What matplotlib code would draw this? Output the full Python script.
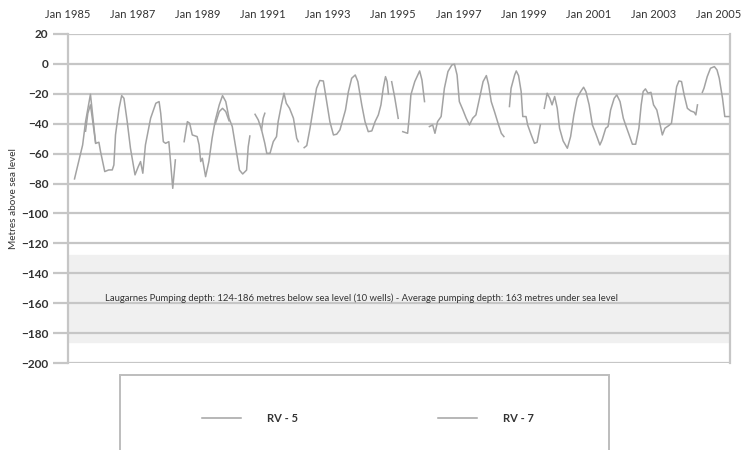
import numpy as np
import matplotlib
matplotlib.use("Agg")
import matplotlib.pyplot as plt
from matplotlib.patches import Rectangle

plt.rcParams['font.family'] = ['Lato', 'DejaVu Sans']

nan = np.nan

# RV - 5 readings (decimal year, metres above sea level); nan = gap in the record
rv5_year = [1985.20, 1985.45, 1985.54, 1985.69, 1985.85, 1985.95, 1986.00, 1986.13, 1986.25,
            1986.36, 1986.41, 1986.46, 1986.57, 1986.65, 1986.72, 1986.82, 1986.92, 1987.06,
            1987.16, 1987.23, 1987.30, 1987.38, 1987.54, 1987.70, 1987.80, 1987.85, 1987.93,
            1988.00, 1988.10, 1988.22, 1988.30, 1988.43,
            1988.57, 1988.67, 1988.74, 1988.82, 1988.97, 1989.03, 1989.08, 1989.13, 1989.23,
            1989.33, 1989.43, 1989.53, 1989.65, 1989.75, 1989.85, 1989.95, 1990.05, 1990.17,
            1990.27, 1990.37, 1990.49, 1990.54, 1990.59, 1990.67,
            1990.75, 1990.85, 1990.95, 1991.05, 1991.11, 1991.21, 1991.31, 1991.41, 1991.46,
            1991.56, 1991.64, 1991.71, 1991.81, 1991.93, 1992.03, 1992.08, 1992.17,
            1992.26, 1992.34, 1992.44, 1992.54, 1992.64, 1992.74, 1992.85, 1992.95, 1993.05,
            1993.16, 1993.26, 1993.36, 1993.46, 1993.53, 1993.62, 1993.72, 1993.83, 1993.91,
            1994.03, 1994.13, 1994.23, 1994.34, 1994.44, 1994.54, 1994.62, 1994.69, 1994.76,
            1994.81, 1994.85, 1995.04,
            1995.29, 1995.44, 1995.49, 1995.54, 1995.66, 1995.81, 1995.88, 1995.96, 1998.49,
            1998.57, 1998.62, 1998.73, 1998.78, 1998.85, 1998.93, 1998.98, 1999.08, 1999.13,
            1999.24, 1999.34, 1999.42, 1999.52, 2004.43,
            2004.50, 2004.55, 2004.65, 2004.75, 2004.87, 2004.95, 2005.02, 2005.12, 2005.19,
            2005.32]
rv5_level = [-76.9, -54.2, -38.6, -20.3, -53.1, -52.4, -58.6, -72.0, -70.9,
             -70.9, -67.6, -47.5, -29.7, -21.2, -23.0, -38.6, -56.4, -74.2,
             -68.7, -65.3, -73.1, -54.2, -36.3, -26.3, -25.2, -33.0, -52.0,
             -53.1, -52.0, -83.2, -64.2, nan,
             -52.0, -38.6, -39.7, -47.5, -48.6, -54.2, -65.3, -63.1, -75.4,
             -65.3, -49.7, -37.5, -27.4, -21.2, -25.2, -36.3, -41.9, -57.6,
             -71.0, -73.6, -71.0, -55.4, -48.2, nan,
             -33.7, -37.5, -44.1, -53.1, -59.8, -59.8, -52.0, -48.6, -38.6,
             -27.4, -19.6, -26.3, -29.7, -36.3, -49.7, -52.0, nan,
             -56.0, -54.6, -43.0, -29.7, -16.3, -11.1, -11.4, -25.2, -38.6,
             -47.5, -47.0, -44.1, -36.3, -30.8, -18.5, -9.6, -7.4, -11.8,
             -27.4, -38.6, -45.3, -44.8, -38.6, -34.1, -27.4, -16.3, -8.5,
             -11.8, -20.0, nan,
             -45.3, -46.4, -35.2, -20.7, -11.8, -4.7, -10.7, -25.2, nan,
             -28.5, -16.3, -7.4, -4.7, -7.8, -18.5, -35.2, -35.2, -40.8,
             -47.5, -53.1, -52.4, -40.8, nan,
             -19.0, -16.3, -8.5, -2.9, -1.8, -4.0, -9.6, -23.0, -35.2,
             -35.2]

# RV - 7 readings
rv7_year = [1985.54, 1985.61, 1985.69, 1985.77, 1985.85, 1987.02,
            1989.53, 1989.65, 1989.75, 1989.85, 1989.95, 1990.47,
            1990.95, 1991.00, 1991.05, 1992.09,
            1994.95, 1995.04, 1995.15, 1995.65,
            1996.11, 1996.21, 1996.28, 1996.36, 1996.47, 1996.57, 1996.68, 1996.80, 1996.88,
            1996.96, 1997.03, 1997.14, 1997.24, 1997.34, 1997.44, 1997.54, 1997.65, 1997.76,
            1997.86, 1997.93, 1998.01, 1998.11, 1998.22, 1998.32, 1998.40, 1999.20,
            1999.64, 1999.73, 1999.81, 1999.88, 1999.96, 2000.04, 2000.11, 2000.22, 2000.35,
            2000.45, 2000.55, 2000.65, 2000.76, 2000.85, 2000.92, 2001.02, 2001.12, 2001.22,
            2001.35, 2001.42, 2001.53, 2001.60, 2001.68, 2001.79, 2001.87, 2001.97, 2002.07,
            2002.14, 2002.25, 2002.35, 2002.45, 2002.55, 2002.62, 2002.68, 2002.75, 2002.83,
            2002.92, 2003.00, 2003.10, 2003.17, 2003.27, 2003.35, 2003.47, 2003.55, 2003.63,
            2003.71, 2003.78, 2003.86, 2003.94, 2004.04, 2004.14, 2004.25, 2004.30, 2004.35]
rv7_level = [-45.0, -33.0, -27.4, -40.0, -53.1, nan,
             -40.0, -31.9, -29.7, -31.9, -38.0, nan,
             -44.1, -36.3, -33.0, nan,
             -11.9, -22.0, -36.4, nan,
             -41.9, -40.8, -46.4, -38.6, -35.2, -16.3, -5.1, -0.7, -0.2,
             -7.4, -25.2, -30.8, -36.3, -40.8, -36.3, -34.1, -23.0, -11.8,
             -7.8, -14.0, -25.2, -31.9, -39.7, -46.4, -48.6, nan,
             -29.7, -19.6, -23.0, -27.4, -21.8, -29.7, -43.0, -51.5, -56.4,
             -48.6, -34.1, -23.0, -18.5, -15.6, -18.5, -27.4, -40.8, -46.4,
             -54.2, -50.8, -43.0, -41.9, -30.8, -23.0, -20.7, -25.2, -36.3,
             -40.8, -47.5, -53.7, -53.7, -43.0, -27.4, -18.5, -16.7, -19.6,
             -19.0, -27.4, -30.8, -37.5, -47.5, -43.0, -41.2, -39.7, -27.4,
             -15.2, -11.4, -11.8, -20.7, -29.7, -31.4, -32.3, -34.1, -27.4]

tick_years = [1985, 1987, 1989, 1991, 1993, 1995, 1997, 1999, 2001, 2003, 2005]
tick_labels = ['Jan ' + str(y) for y in tick_years]
y_ticks = list(range(20, -201, -20))

pump_top = -128
pump_bottom = -186
pump_text = ('Laugarnes Pumping depth: 124-186 metres below sea level (10 wells) - '
             'Average pumping depth: 163 metres under sea level')

line_col = '#a3a3a3'
grid_col = '#c6c6c6'
text_col = '#333333'

fig = plt.figure(figsize=(7.47, 4.5), dpi=100)
ax = fig.add_axes([68 / 747, 1 - 363 / 450, (730 - 68) / 747, (363 - 34) / 450])

ax.axhspan(pump_bottom, pump_top, color='#f0f0f0', zorder=0)
ax.text(0.056, (pump_top + pump_bottom) / 2, pump_text, transform=ax.get_yaxis_transform(),
        ha='left', va='center', fontsize=6.8, color=text_col)

l5, = ax.plot(rv5_year, rv5_level, color=line_col, lw=1.1, label='RV - 5', zorder=3)
l7, = ax.plot(rv7_year, rv7_level, color=line_col, lw=1.1, label='RV - 7', zorder=3)

ax.set_xlim(1985, 2005.35)
ax.set_ylim(-200, 20)
ax.set_yticks(y_ticks)
ax.set_xticks(tick_years)
ax.set_xticklabels(tick_labels)
ax.xaxis.tick_top()
ax.tick_params(axis='x', length=0, pad=10, labelsize=8, labelcolor=text_col)
ax.tick_params(axis='y', length=11, width=1.6, color=grid_col, pad=3,
               labelsize=8.5, labelcolor=text_col)
for lab in ax.get_yticklabels():
    lab.set_fontweight('bold')

ax.grid(axis='y', color=grid_col, lw=1.6, zorder=1)
ax.set_axisbelow(True)
for side in ['top', 'bottom']:
    ax.spines[side].set_visible(False)
for side in ['left', 'right']:
    ax.spines[side].set_color(grid_col)
    ax.spines[side].set_linewidth(1.6)

ax.set_ylabel('Metres above sea level', fontsize=7.2, color=text_col, labelpad=2)

# legend box runs off the bottom of the image
fig.add_artist(Rectangle((120 / 747, -0.05), (609 - 120) / 747, 0.05 + 75 / 450,
                         transform=fig.transFigure, fill=False, edgecolor='#bdbdbd', lw=1.4))
for handle, x0 in [(l5, 202), (l7, 438)]:
    leg = fig.legend(handles=[handle], loc='center left', bbox_to_anchor=(x0 / 747, 1 - 418 / 450),
                     frameon=False, fontsize=8, handlelength=3.5, handletextpad=2.35,
                     borderpad=0, borderaxespad=0)
    for t in leg.get_texts():
        t.set_fontweight('bold')
        t.set_color(text_col)

fig.savefig('out.png', dpi=100)
